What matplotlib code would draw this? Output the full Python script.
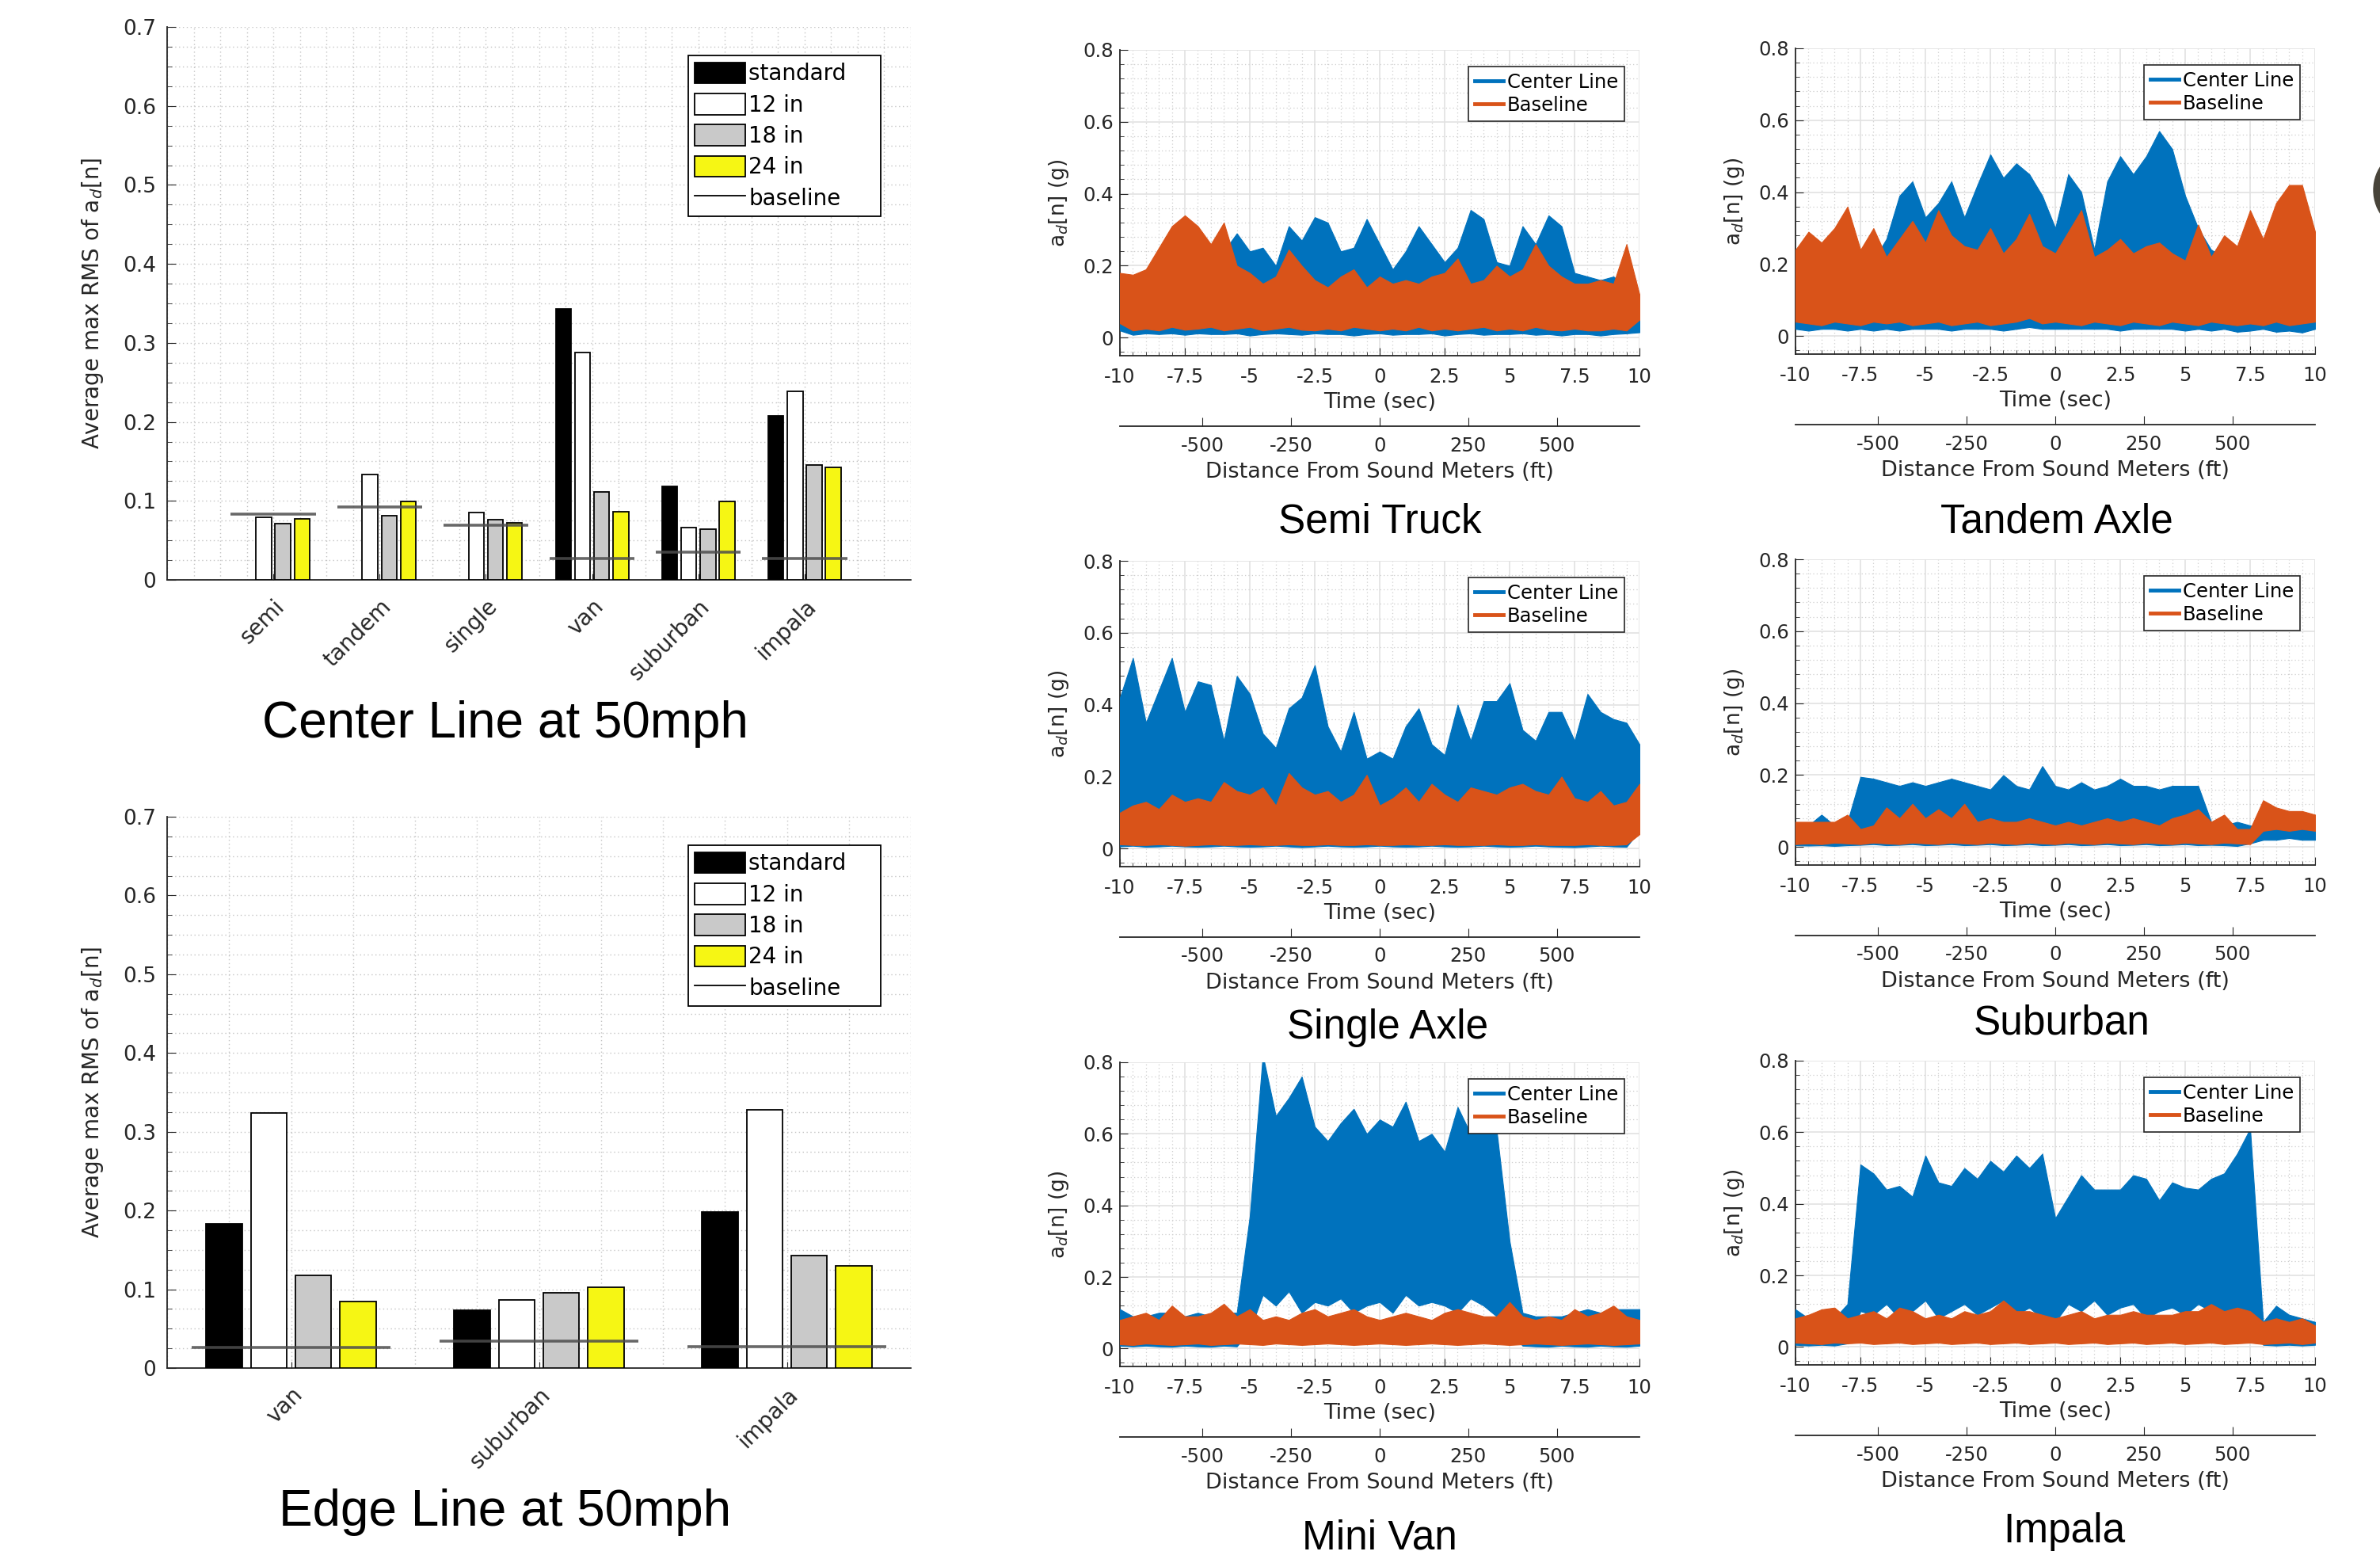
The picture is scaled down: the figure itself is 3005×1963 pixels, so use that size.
#Rumble strip vibration summary figure
import matplotlib
matplotlib.use('Agg')
import matplotlib.pyplot as plt
from matplotlib.patches import Patch, Ellipse
from matplotlib.lines import Line2D
from matplotlib.ticker import MultipleLocator
import numpy as np

plt.rcParams['font.family'] = ['DejaVu Sans']

W, H = 3005, 1963

# ---- bar chart data (average max RMS of a_d[n]) ----
center_cats = ['semi', 'tandem', 'single', 'van', 'suburban', 'impala']
center_standard = [None, None, None, 0.343, 0.118, 0.208]
center_12in = [0.079, 0.133, 0.085, 0.288, 0.066, 0.239]
center_18in = [0.071, 0.081, 0.076, 0.111, 0.064, 0.145]
center_24in = [0.077, 0.099, 0.072, 0.086, 0.099, 0.142]
center_baseline = [0.083, 0.092, 0.069, 0.027, 0.035, 0.027]

edge_cats = ['van', 'suburban', 'impala']
edge_standard = [0.183, 0.073, 0.198]
edge_12in = [0.324, 0.086, 0.328]
edge_18in = [0.118, 0.096, 0.143]
edge_24in = [0.084, 0.103, 0.130]
edge_baseline = [0.026, 0.034, 0.027]

bar_names = ['standard', '12 in', '18 in', '24 in']

# ---- time traces: envelope of a_d[n] read every 0.5 s from -10 to 10 s ----
t = np.arange(-10, 10.01, 0.5)

semi_cl_hi = [0.13, 0.15, 0.17, 0.20, 0.23, 0.27, 0.27, 0.25, 0.24, 0.29,
              0.24, 0.25, 0.20, 0.31, 0.27, 0.335, 0.32, 0.24, 0.25, 0.33,
              0.26, 0.19, 0.24, 0.31, 0.26, 0.21, 0.25, 0.355, 0.33, 0.21,
              0.20, 0.31, 0.26, 0.34, 0.31, 0.18, 0.17, 0.16, 0.17, 0.14, 0.12]
semi_cl_lo = [0.02, 0.008, 0.012, 0.01, 0.012, 0.008, 0.012, 0.01, 0.01, 0.012,
              0.006, 0.01, 0.012, 0.01, 0.008, 0.012, 0.01, 0.01, 0.006, 0.01,
              0.012, 0.008, 0.01, 0.01, 0.012, 0.006, 0.01, 0.012, 0.008, 0.01,
              0.01, 0.012, 0.008, 0.01, 0.006, 0.01, 0.01, 0.006, 0.01, 0.012, 0.015]
semi_bl_hi = [0.18, 0.175, 0.19, 0.25, 0.31, 0.34, 0.31, 0.26, 0.32, 0.20,
              0.18, 0.15, 0.17, 0.245, 0.20, 0.16, 0.14, 0.17, 0.19, 0.14,
              0.17, 0.15, 0.16, 0.15, 0.17, 0.18, 0.22, 0.15, 0.16, 0.20,
              0.17, 0.19, 0.26, 0.20, 0.17, 0.15, 0.15, 0.16, 0.15, 0.26, 0.12]
semi_bl_lo = [0.04, 0.02, 0.025, 0.02, 0.03, 0.022, 0.025, 0.03, 0.02, 0.025,
              0.03, 0.02, 0.025, 0.03, 0.022, 0.02, 0.025, 0.02, 0.03, 0.025,
              0.02, 0.025, 0.02, 0.03, 0.02, 0.025, 0.02, 0.025, 0.03, 0.02,
              0.025, 0.02, 0.03, 0.022, 0.02, 0.025, 0.02, 0.02, 0.025, 0.02, 0.05]

tandem_cl_hi = [0.22, 0.20, 0.20, 0.20, 0.20, 0.20, 0.21, 0.27, 0.39, 0.43,
                0.33, 0.37, 0.43, 0.33, 0.42, 0.505, 0.44, 0.48, 0.45, 0.39,
                0.30, 0.45, 0.40, 0.24, 0.43, 0.50, 0.45, 0.50, 0.57, 0.52,
                0.39, 0.30, 0.24, 0.22, 0.22, 0.21, 0.20, 0.21, 0.20, 0.21, 0.20]
tandem_cl_lo = [0.02, 0.015, 0.02, 0.02, 0.015, 0.02, 0.015, 0.02, 0.015, 0.02,
                0.02, 0.02, 0.015, 0.02, 0.02, 0.02, 0.015, 0.02, 0.025, 0.02,
                0.02, 0.02, 0.02, 0.02, 0.02, 0.015, 0.02, 0.02, 0.02, 0.02,
                0.015, 0.02, 0.015, 0.02, 0.012, 0.015, 0.02, 0.012, 0.015, 0.01, 0.02]
tandem_bl_hi = [0.24, 0.29, 0.26, 0.30, 0.36, 0.24, 0.30, 0.22, 0.27, 0.32,
                0.26, 0.35, 0.28, 0.25, 0.24, 0.30, 0.23, 0.27, 0.34, 0.25,
                0.23, 0.29, 0.35, 0.22, 0.24, 0.27, 0.23, 0.25, 0.26, 0.23,
                0.21, 0.31, 0.22, 0.28, 0.25, 0.35, 0.27, 0.37, 0.42, 0.42, 0.29]
tandem_bl_lo = [0.04, 0.035, 0.03, 0.04, 0.035, 0.03, 0.04, 0.035, 0.04, 0.03,
                0.035, 0.04, 0.03, 0.035, 0.04, 0.03, 0.035, 0.04, 0.05, 0.035,
                0.04, 0.035, 0.03, 0.04, 0.035, 0.03, 0.04, 0.035, 0.03, 0.04,
                0.035, 0.03, 0.04, 0.035, 0.03, 0.035, 0.03, 0.04, 0.03, 0.035, 0.04]

single_cl_hi = [0.42, 0.53, 0.35, 0.44, 0.53, 0.38, 0.465, 0.455, 0.30, 0.48,
                0.43, 0.32, 0.28, 0.39, 0.42, 0.51, 0.34, 0.27, 0.38, 0.25,
                0.27, 0.25, 0.34, 0.39, 0.29, 0.26, 0.40, 0.30, 0.41, 0.41,
                0.46, 0.33, 0.30, 0.38, 0.38, 0.30, 0.43, 0.38, 0.36, 0.35, 0.29]
single_cl_lo = [0.006, 0.008, 0.005, 0.006, 0.008, 0.006, 0.005, 0.006, 0.008, 0.006,
                0.005, 0.006, 0.008, 0.006, 0.004, 0.006, 0.008, 0.006, 0.005, 0.006,
                0.008, 0.006, 0.005, 0.006, 0.008, 0.006, 0.005, 0.006, 0.008, 0.006,
                0.005, 0.006, 0.008, 0.006, 0.005, 0.004, 0.006, 0.008, 0.006, 0.005, 0.05]
single_bl_hi = [0.10, 0.12, 0.13, 0.11, 0.15, 0.13, 0.14, 0.13, 0.185, 0.16,
                0.15, 0.17, 0.12, 0.21, 0.17, 0.15, 0.16, 0.13, 0.15, 0.205,
                0.12, 0.14, 0.17, 0.13, 0.18, 0.15, 0.13, 0.17, 0.16, 0.15,
                0.17, 0.18, 0.16, 0.15, 0.20, 0.14, 0.13, 0.16, 0.12, 0.13, 0.18]
single_bl_lo = [0.012, 0.01, 0.01, 0.012, 0.01, 0.008, 0.01, 0.012, 0.01, 0.01,
                0.012, 0.01, 0.01, 0.012, 0.01, 0.01, 0.012, 0.01, 0.01, 0.012,
                0.01, 0.01, 0.012, 0.01, 0.01, 0.012, 0.01, 0.01, 0.01, 0.012,
                0.01, 0.01, 0.012, 0.01, 0.01, 0.01, 0.012, 0.01, 0.01, 0.012, 0.04]

suburban_cl_hi = [0.05, 0.06, 0.09, 0.06, 0.07, 0.195, 0.19, 0.18, 0.17, 0.18,
                  0.17, 0.18, 0.19, 0.18, 0.17, 0.16, 0.20, 0.17, 0.16, 0.225,
                  0.17, 0.16, 0.18, 0.16, 0.17, 0.19, 0.17, 0.17, 0.16, 0.17,
                  0.17, 0.17, 0.07, 0.06, 0.07, 0.06, 0.05, 0.05, 0.06, 0.055, 0.05]
suburban_cl_lo = [0.005, 0.004, 0.005, 0.003, 0.005, 0.006, 0.008, 0.005, 0.006, 0.008,
                  0.005, 0.006, 0.008, 0.005, 0.006, 0.008, 0.005, 0.006, 0.008, 0.005,
                  0.006, 0.008, 0.005, 0.006, 0.008, 0.005, 0.006, 0.008, 0.005, 0.006,
                  0.008, 0.005, 0.006, 0.005, 0.003, 0.01, 0.02, 0.02, 0.025, 0.02, 0.02]
suburban_bl_hi = [0.07, 0.07, 0.07, 0.07, 0.09, 0.05, 0.06, 0.11, 0.08, 0.12,
                  0.08, 0.105, 0.08, 0.12, 0.07, 0.08, 0.07, 0.07, 0.08, 0.07,
                  0.06, 0.07, 0.06, 0.07, 0.08, 0.07, 0.08, 0.07, 0.06, 0.08,
                  0.09, 0.105, 0.07, 0.09, 0.05, 0.05, 0.13, 0.11, 0.10, 0.10, 0.09]
suburban_bl_lo = [0.008, 0.01, 0.008, 0.012, 0.01, 0.008, 0.012, 0.01, 0.008, 0.012,
                  0.01, 0.008, 0.012, 0.01, 0.008, 0.012, 0.01, 0.008, 0.012, 0.01,
                  0.008, 0.012, 0.01, 0.008, 0.012, 0.01, 0.008, 0.012, 0.01, 0.008,
                  0.012, 0.01, 0.008, 0.012, 0.01, 0.008, 0.045, 0.05, 0.045, 0.05, 0.045]

minivan_cl_hi = [0.11, 0.09, 0.09, 0.10, 0.10, 0.09, 0.10, 0.09, 0.10, 0.10,
                 0.37, 0.82, 0.65, 0.70, 0.76, 0.62, 0.58, 0.63, 0.67, 0.60,
                 0.64, 0.62, 0.69, 0.58, 0.60, 0.55, 0.675, 0.60, 0.62, 0.61,
                 0.30, 0.10, 0.09, 0.09, 0.09, 0.10, 0.11, 0.10, 0.11, 0.11, 0.11]
minivan_cl_lo = [0.008, 0.006, 0.008, 0.006, 0.005, 0.008, 0.006, 0.005, 0.008, 0.006,
                 0.05, 0.15, 0.12, 0.16, 0.10, 0.13, 0.12, 0.14, 0.10, 0.12,
                 0.13, 0.10, 0.15, 0.12, 0.13, 0.12, 0.10, 0.14, 0.12, 0.09,
                 0.05, 0.008, 0.006, 0.005, 0.008, 0.006, 0.005, 0.008, 0.006, 0.005, 0.008]
minivan_bl_hi = [0.08, 0.09, 0.10, 0.08, 0.12, 0.09, 0.09, 0.10, 0.125, 0.09,
                 0.11, 0.08, 0.09, 0.08, 0.10, 0.11, 0.09, 0.10, 0.11, 0.09,
                 0.08, 0.09, 0.10, 0.09, 0.08, 0.10, 0.11, 0.10, 0.09, 0.09,
                 0.13, 0.09, 0.08, 0.09, 0.08, 0.11, 0.09, 0.10, 0.12, 0.09, 0.08]
minivan_bl_lo = [0.012, 0.01, 0.014, 0.012, 0.01, 0.012, 0.014, 0.01, 0.012, 0.014,
                 0.012, 0.01, 0.014, 0.012, 0.01, 0.012, 0.014, 0.012, 0.01, 0.012,
                 0.014, 0.012, 0.01, 0.012, 0.014, 0.012, 0.01, 0.012, 0.014, 0.012,
                 0.01, 0.012, 0.014, 0.012, 0.01, 0.012, 0.014, 0.012, 0.01, 0.012, 0.014]

impala_cl_hi = [0.105, 0.08, 0.07, 0.08, 0.12, 0.51, 0.485, 0.44, 0.45, 0.42,
                0.535, 0.46, 0.45, 0.50, 0.47, 0.52, 0.49, 0.535, 0.50, 0.54,
                0.36, 0.42, 0.48, 0.44, 0.44, 0.44, 0.48, 0.47, 0.41, 0.46,
                0.445, 0.44, 0.47, 0.485, 0.54, 0.61, 0.07, 0.115, 0.09, 0.08, 0.07]
impala_cl_lo = [0.006, 0.004, 0.006, 0.004, 0.01, 0.10, 0.09, 0.12, 0.08, 0.10,
                0.13, 0.08, 0.10, 0.12, 0.09, 0.11, 0.13, 0.09, 0.11, 0.08,
                0.07, 0.12, 0.10, 0.13, 0.09, 0.11, 0.12, 0.08, 0.10, 0.11,
                0.09, 0.12, 0.10, 0.09, 0.10, 0.08, 0.006, 0.004, 0.006, 0.004, 0.006]
impala_bl_hi = [0.08, 0.09, 0.105, 0.11, 0.08, 0.09, 0.10, 0.08, 0.11, 0.10,
                0.08, 0.09, 0.08, 0.10, 0.09, 0.10, 0.13, 0.10, 0.10, 0.09,
                0.08, 0.09, 0.10, 0.08, 0.09, 0.09, 0.10, 0.09, 0.09, 0.09,
                0.10, 0.10, 0.12, 0.10, 0.11, 0.10, 0.07, 0.08, 0.07, 0.08, 0.06]
impala_bl_lo = [0.012, 0.01, 0.008, 0.012, 0.01, 0.012, 0.008, 0.01, 0.012, 0.008,
                0.01, 0.012, 0.008, 0.01, 0.012, 0.008, 0.01, 0.012, 0.008, 0.01,
                0.012, 0.008, 0.01, 0.012, 0.008, 0.01, 0.012, 0.008, 0.01, 0.012,
                0.008, 0.01, 0.012, 0.008, 0.01, 0.012, 0.008, 0.01, 0.012, 0.008, 0.012]

# ---- style ----
BLUE = '#0072BD'
ORANGE = '#D95319'
BAR_COLORS = ['black', 'white', '#c9c9c9', '#f6f614']
DARK = '#262626'
FT_PER_SEC = 50 * 5280 / 3600.0
TITLE_FONT = 'Liberation Sans'

fig = plt.figure(figsize=(W / 100, H / 100), dpi=100)


def frac_rect(left, top, right, bottom):
    return [left / W, 1 - bottom / H, (right - left) / W, (bottom - top) / H]


def bar_chart(rect, cats, standard, in12, in18, in24, baseline, title, title_y):
    ax = fig.add_axes(rect)
    x = np.arange(len(cats))
    offsets = [-0.27, -0.09, 0.09, 0.27]
    for vals, off, col in zip([standard, in12, in18, in24], offsets, BAR_COLORS):
        xs = [xi + off for xi, v in zip(x, vals) if v is not None]
        hs = [v for v in vals if v is not None]
        ax.bar(xs, hs, width=0.145, color=col, edgecolor='black', linewidth=1.3, zorder=3)
    ax.hlines(baseline, x - 0.4, x + 0.4, colors='#4d4d4d', linewidth=2.6, alpha=0.85, zorder=4)
    if len(cats) == 3:
        ax.set_xlim(-0.5, 2.5)
    else:
        ax.set_xlim(-1, len(cats))
    ax.set_ylim(0, 0.7)
    ax.set_yticks(np.arange(0, 0.71, 0.1))
    ax.set_yticklabels(['0', '0.1', '0.2', '0.3', '0.4', '0.5', '0.6', '0.7'])
    ax.yaxis.set_minor_locator(MultipleLocator(0.025))
    ax.xaxis.set_minor_locator(MultipleLocator(0.25))
    ax.set_xticks(x)
    ax.set_xticklabels(cats, rotation=45, ha='right', va='top', rotation_mode='anchor')
    ax.tick_params(axis='y', which='major', direction='in', length=8, labelsize=19,
                   colors=DARK, pad=10)
    ax.tick_params(axis='y', which='minor', direction='in', length=4, colors=DARK)
    ax.tick_params(axis='x', which='major', direction='in', length=6, labelsize=20,
                   colors=DARK, pad=14)
    ax.tick_params(axis='x', which='minor', length=0)
    ax.grid(True, which='both', linestyle=(0, (1, 2.5)), color='#c4c4c4', linewidth=1.0, zorder=0)
    for s in ['top', 'right']:
        ax.spines[s].set_visible(False)
    for s in ['left', 'bottom']:
        ax.spines[s].set_color(DARK)
        ax.spines[s].set_linewidth(1.3)
    ax.set_ylabel('Average max RMS of a$_{d}$[n]', fontsize=20, color=DARK, labelpad=16)
    handles = [Patch(facecolor=c, edgecolor='black', linewidth=1.3) for c in BAR_COLORS]
    handles.append(Line2D([], [], color='black', linewidth=1.3))
    labels = [bar_names[0] + '    '] + bar_names[1:] + ['baseline']
    leg = ax.legend(handles, labels, loc='upper right',
                    bbox_to_anchor=(0.96, 0.948), borderaxespad=0, fontsize=20,
                    handlelength=2.3, handleheight=1.1, labelspacing=0.38,
                    handletextpad=0.15, borderpad=0.3, fancybox=False, framealpha=1)
    leg.get_frame().set_edgecolor('black')
    leg.get_frame().set_linewidth(1.3)
    fig.text(638 / W, 1 - title_y / H, title, ha='center', va='center',
             fontsize=46, family=TITLE_FONT)
    return ax


bar_chart(frac_rect(211, 34, 1150, 732), center_cats, center_standard, center_12in,
          center_18in, center_24in, center_baseline, 'Center Line at 50mph', 914)
bar_chart(frac_rect(211, 1031, 1150, 1727), edge_cats, edge_standard, edge_12in,
          edge_18in, edge_24in, edge_baseline, 'Edge Line at 50mph', 1909)


def trace_panel(left, top, bottom, cl_hi, cl_lo, bl_hi, bl_lo, title, title_x, title_y):
    right = left + 656
    ax = fig.add_axes(frac_rect(left, top, right, bottom))
    ax.fill_between(t, cl_lo, cl_hi, color=BLUE, edgecolor=BLUE, linewidth=0.8, zorder=3)
    ax.fill_between(t, bl_lo, bl_hi, color=ORANGE, edgecolor=ORANGE, linewidth=0.8, zorder=4)
    ax.set_xlim(-10, 10)
    ax.set_ylim(-0.05, 0.8)
    ax.set_xticks(np.arange(-10, 10.1, 2.5))
    ax.set_xticklabels(['-10', '-7.5', '-5', '-2.5', '0', '2.5', '5', '7.5', '10'])
    ax.set_yticks([0, 0.2, 0.4, 0.6, 0.8])
    ax.set_yticklabels(['0', '0.2', '0.4', '0.6', '0.8'])
    ax.xaxis.set_minor_locator(MultipleLocator(0.5))
    ax.yaxis.set_minor_locator(MultipleLocator(0.04))
    ax.tick_params(which='major', direction='in', length=7, labelsize=17.5, colors=DARK)
    ax.tick_params(axis='x', which='major', pad=11)
    ax.tick_params(axis='y', which='major', pad=6)
    ax.tick_params(which='minor', direction='in', length=3.5, colors=DARK)
    ax.grid(True, which='major', color='#e2e2e2', linewidth=1.2, zorder=0)
    ax.grid(True, which='minor', color='#cfcfcf', linestyle=(0, (1, 2.5)), linewidth=0.9, zorder=0)
    for s in ['top', 'right']:
        ax.spines[s].set_visible(False)
    for s in ['left', 'bottom']:
        ax.spines[s].set_color(DARK)
        ax.spines[s].set_linewidth(1.3)
    ax.set_xlabel('Time (sec)', fontsize=19.5, color=DARK, labelpad=5)
    ax.set_ylabel('a$_{d}$[n] (g)', fontsize=19, color=DARK, labelpad=11)
    handles = [Line2D([], [], color=BLUE, linewidth=3.5), Line2D([], [], color=ORANGE, linewidth=3.5)]
    leg = ax.legend(handles, ['Center Line', 'Baseline'], loc='upper right',
                    bbox_to_anchor=(0.971, 0.946), borderaxespad=0, fontsize=17.5,
                    handlelength=1.5, handletextpad=0.2, labelspacing=0.22,
                    borderpad=0.32, fancybox=False, framealpha=1)
    leg.get_frame().set_edgecolor(DARK)
    leg.get_frame().set_linewidth(1.2)

    # distance axis drawn below the time axis
    dist_y = bottom + 89
    dax = fig.add_axes(frac_rect(left, dist_y - 1, right, dist_y))
    dax.patch.set_visible(False)
    for s in ['top', 'left', 'right']:
        dax.spines[s].set_visible(False)
    dax.spines['bottom'].set_color(DARK)
    dax.spines['bottom'].set_linewidth(1.3)
    dax.set_xlim(-10 * FT_PER_SEC, 10 * FT_PER_SEC)
    dax.set_xticks([-500, -250, 0, 250, 500])
    dax.set_xticklabels(['-500', '-250', '0', '250', '500'])
    dax.set_yticks([])
    dax.tick_params(axis='x', direction='in', length=8, labelsize=17.5, colors=DARK, pad=9)
    dax.set_xlabel('Distance From Sound Meters (ft)', fontsize=19.5, color=DARK, labelpad=6)

    fig.text(title_x / W, 1 - title_y / H, title, ha='center', va='center',
             fontsize=37, family=TITLE_FONT)
    return ax


COL1, COL2 = 1414, 2267
trace_panel(COL1, 63, 449, semi_cl_hi, semi_cl_lo, semi_bl_hi, semi_bl_lo,
            'Semi Truck', 1742, 659)
trace_panel(COL2, 61, 447, tandem_cl_hi, tandem_cl_lo, tandem_bl_hi, tandem_bl_lo,
            'Tandem Axle', 2597, 659)
trace_panel(COL1, 708, 1094, single_cl_hi, single_cl_lo, single_bl_hi, single_bl_lo,
            'Single Axle', 1752, 1298)
trace_panel(COL2, 706, 1092, suburban_cl_hi, suburban_cl_lo, suburban_bl_hi, suburban_bl_lo,
            'Suburban', 2603, 1292)
trace_panel(COL1, 1341, 1725, minivan_cl_hi, minivan_cl_lo, minivan_bl_hi, minivan_bl_lo,
            'Mini Van', 1742, 1942)
trace_panel(COL2, 1339, 1723, impala_cl_hi, impala_cl_lo, impala_bl_hi, impala_bl_lo,
            'Impala', 2606, 1934)

# clipped dark shape on the right edge
fig.add_artist(Ellipse((3042 / W, 1 - 240 / H), 90 / W, 100 / H,
                       transform=fig.transFigure, color='#48443a'))

fig.savefig('out.png', dpi=100)
